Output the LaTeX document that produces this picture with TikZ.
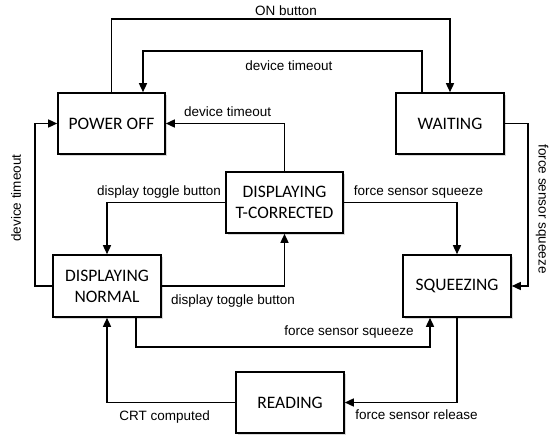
\documentclass[tikz,border=0pt]{standalone}
\usepackage{fontspec}
\setmainfont{Liberation Sans}
\newfontfamily\boxfont{Carlito}
\usetikzlibrary{arrows.meta,calc,shadows}
\begin{document}
\begin{tikzpicture}[x=1pt,y=-1pt]
\tikzstyle{every node}+=[inner sep=0pt]
\tikzstyle{state}=[draw=black,line width=1.6pt,fill=white,minimum width=108pt,minimum height=61pt,align=center,font=\boxfont\fontsize{17.5}{21}\selectfont,drop shadow={opacity=0.3,shadow xshift=1.5pt,shadow yshift=-1.5pt}]
\tikzstyle{trans}=[line width=1.5pt,-{Triangle[length=9pt,width=8pt]}]
\tikzstyle{lbl}=[font=\fontsize{13.5}{15}\selectfont]
\useasboundingbox (0,0) rectangle (554,439);
%states
\node[state,minimum width=107pt] (poweroff) at (111.5,123.5) {POWER OFF};
\node[state] (waiting) at (450,123.5) {WAITING};
\node[state,minimum width=117pt] (tcorr) at (284.5,202.5) {DISPLAYING\\T-CORRECTED};
\node[state,minimum height=62pt] (normal) at (107,286) {DISPLAYING\\NORMAL};
\node[state,minimum height=62pt] (squeezing) at (457,286) {SQUEEZING};
\node[state] (reading) at (290,402.5) {READING};
%rails
\coordinate (ontop) at (286,19);
\coordinate (dtop) at (289,51);
\coordinate (wsrail) at (528,205);
\coordinate (dtrail) at (35,200);
\coordinate (fsrail) at (280,347);
%transitions
\draw[trans] (poweroff.north) |- (ontop) node[lbl,above=3pt] {ON button} -| (waiting.north);
\draw[trans] ([xshift=-28pt]waiting.north) |- (dtop) node[lbl,below=9pt] {device timeout} -| ([xshift=31.5pt]poweroff.north);
\draw[trans] (tcorr.north) |- node[lbl,above=6pt,pos=0.74] {device timeout} (poweroff.east);
\draw[trans] (tcorr.west) -| node[lbl,above=3pt,pos=0.28] {display toggle button} (normal.north);
\draw[trans] (tcorr.east) -| node[lbl,above=3pt,pos=0.33] {force sensor squeeze} (squeezing.north);
\draw[trans] (waiting.east) -| (wsrail) |- (squeezing.east);
\node[lbl,rotate=-90] (wslbl) at ($(wsrail)+(14,4)$) {force sensor squeeze};
\draw[trans] (normal.west) -| (dtrail) |- (poweroff.west);
\node[lbl,rotate=90] (dtlbl) at ($(dtrail)+(-19,-2)$) {device timeout};
\draw[trans] (normal.east) -| node[lbl,below=8pt,pos=0.29] {display toggle button} (tcorr.south);
\draw[trans] ([xshift=29pt]normal.south) |- (fsrail) -| node[lbl,above=8pt,pos=0.23] {force sensor squeeze} ([xshift=-27pt]squeezing.south);
\draw[trans] (squeezing.south) |- node[lbl,below=6.5pt,pos=0.68] {force sensor release} (reading.east);
\draw[trans] (reading.west) -| node[lbl,below=7pt,pos=0.275] {CRT computed} (normal.south);
\end{tikzpicture}
\end{document}
